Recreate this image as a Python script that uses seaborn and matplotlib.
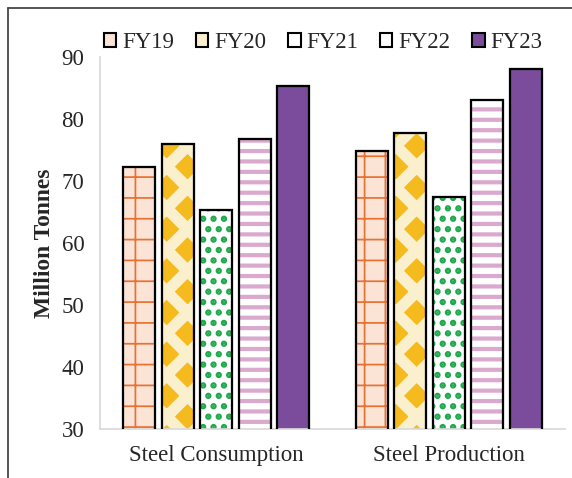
import seaborn as sns
import matplotlib.pyplot as plt
import pandas as pd
from matplotlib.patches import Rectangle
from matplotlib.lines import Line2D

categories = ['Steel Consumption', 'Steel Production']
years = ['FY19', 'FY20', 'FY21', 'FY22', 'FY23']
consumption = [72.3, 76.0, 65.4, 76.8, 85.4]
production = [74.8, 77.7, 67.5, 83.0, 88.0]

# fill, hatch colour, hatch pattern, hatch width (pt) per year
faces = ['#FBE3D6', '#F5BA1E', '#FFFFFF', '#FFFFFF', '#7B4C9B']
hatch_cols = ['#E97132', '#FBF0CD', '#1FA84C', '#DBA8CE', '#7B4C9B']
hatches = ['+', 'x', '..', '--', '']
hatch_w = [1.0, 6.6, 2.4, 2.4, 0]
legend_faces = ['#FBE3D6', '#FBF0CD', '#FFFFFF', '#FFFFFF', '#7B4C9B']

df = pd.DataFrame({
    'cat': [c for c in categories for _ in years],
    'year': years * 2,
    'val': consumption + production,
})

sns.set_style('white')
plt.rcParams['font.family'] = ['Liberation Serif', 'DejaVu Serif']

DPI = 125
fig = plt.figure(figsize=(572 / DPI, 478 / DPI), dpi=DPI)
ax = fig.add_axes([100 / 572, 1 - 429 / 478, 465 / 572, 372 / 478])

sns.barplot(data=df, x='cat', y='val', hue='year', hue_order=years, ax=ax,
            width=0.83, gap=0.17, legend=False)

for i, cont in enumerate(ax.containers):
    for p in cont:
        p.set_facecolor(faces[i])
        p.set_edgecolor(hatch_cols[i])
        p.set_linewidth(0)
        if hatches[i]:
            p.set_hatch(hatches[i])
            if hasattr(p, 'set_hatch_linewidth'):
                p.set_hatch_linewidth(hatch_w[i])
        # black outline on top of the hatched bar
        ax.add_patch(Rectangle(p.get_xy(), p.get_width(), p.get_height(),
                               fill=False, edgecolor='black', lw=1.3, zorder=3))

ax.set_ylim(30, 90)
ax.set_yticks(range(30, 91, 10))
ax.set_xlim(-0.5, 1.5)
ax.set_xlabel('')
ax.set_ylabel('Million Tonnes', fontsize=13.5, fontweight='bold', labelpad=4)
ax.tick_params(axis='y', length=5, width=0.8, color='#D9D9D9', labelsize=13.2, pad=4)
ax.tick_params(axis='x', length=0, labelsize=13.2, pad=9)
for s in ['top', 'right']:
    ax.spines[s].set_visible(False)
for s in ['left', 'bottom']:
    ax.spines[s].set_color('#D9D9D9')
    ax.spines[s].set_linewidth(1.0)

handles = [Rectangle((0, 0), 1, 1, facecolor=legend_faces[i], edgecolor='black', lw=1.2)
           for i in range(len(years))]
fig.legend(handles, years, loc='center', bbox_to_anchor=(323 / 572, 1 - 43 / 478),
           ncol=5, frameon=False, fontsize=13.2, handlelength=0.55, handleheight=0.55,
           handletextpad=0.25, columnspacing=0.95)

# outer chart border (top and left only visible)
fig.add_artist(Line2D([8 / 572, 1], [1 - 8 / 478] * 2, color='#404040', lw=1.0))
fig.add_artist(Line2D([8 / 572] * 2, [0, 1 - 8 / 478], color='#404040', lw=1.0))

fig.savefig('out.png', dpi=DPI)
